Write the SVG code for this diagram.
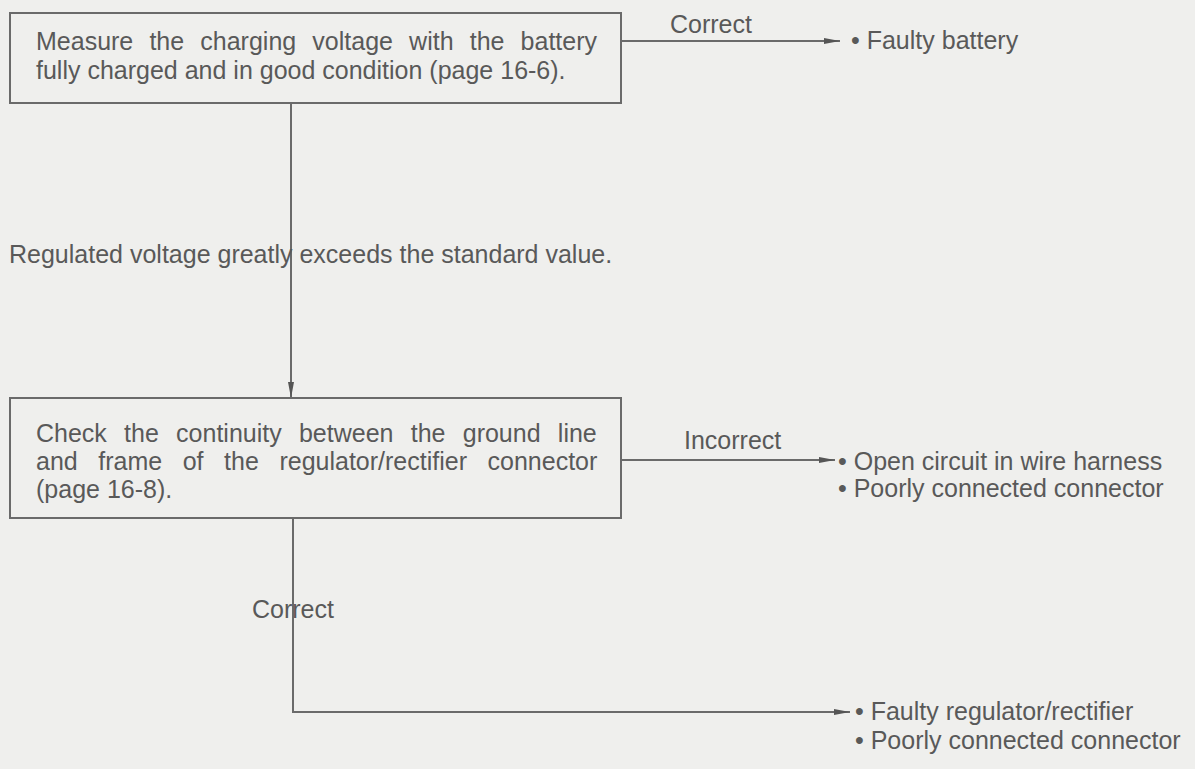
<svg xmlns="http://www.w3.org/2000/svg" width="1195" height="769" viewBox="0 0 1195 769">
<defs>
<style>
.t{font-family:"Liberation Sans",Arial,sans-serif;font-size:25px;fill:#595959;}
.box{fill:none;stroke:#6a6a6a;stroke-width:2;}
.ln{fill:none;stroke:#6a6a6a;stroke-width:2;}
</style>
<marker id="ah" viewBox="0 0 16 8" refX="16" refY="4" markerWidth="16" markerHeight="8" markerUnits="userSpaceOnUse" orient="auto">
<path d="M0,1 L16,4 L0,7 Z" fill="#555"/>
</marker>
</defs>
<rect width="1195" height="769" fill="#efefed"/>
<g id="connectors">
<line class="ln" x1="621" y1="41" x2="840" y2="41" marker-end="url(#ah)"/>
<line class="ln" x1="291" y1="103" x2="291" y2="398" marker-end="url(#ah)"/>
<line class="ln" x1="621" y1="460" x2="835" y2="460" marker-end="url(#ah)"/>
<polyline class="ln" points="293,518 293,712 850,712" marker-end="url(#ah)"/>
</g>
<g id="labels">
<text class="t" x="670" y="33">Correct</text>
<text class="t" x="9" y="263">Regulated voltage greatly exceeds the standard value.</text>
<text class="t" x="684" y="449">Incorrect</text>
<text class="t" x="252" y="618">Correct</text>
</g>
<g id="box1">
<rect class="box" x="10" y="13" width="611" height="90"/>
<text class="t" x="36" y="50" word-spacing="9.2">Measure the charging voltage with the battery</text>
<text class="t" x="36" y="79">fully charged and in good condition (page 16-6).</text>
</g>
<g id="box2">
<rect class="box" x="10" y="398" width="611" height="120"/>
<text class="t" x="36" y="442" word-spacing="10.3">Check the continuity between the ground line</text>
<text class="t" x="36" y="470" word-spacing="13.6">and frame of the regulator/rectifier connector</text>
<text class="t" x="36" y="498">(page 16-8).</text>
</g>
<g id="result1">
<text class="t" x="851" y="49">• Faulty battery</text>
</g>
<g id="result2">
<text class="t" x="838" y="470">• Open circuit in wire harness</text>
<text class="t" x="838" y="497">• Poorly connected connector</text>
</g>
<g id="result3">
<text class="t" x="855" y="720">• Faulty regulator/rectifier</text>
<text class="t" x="855" y="749">• Poorly connected connector</text>
</g>
</svg>
